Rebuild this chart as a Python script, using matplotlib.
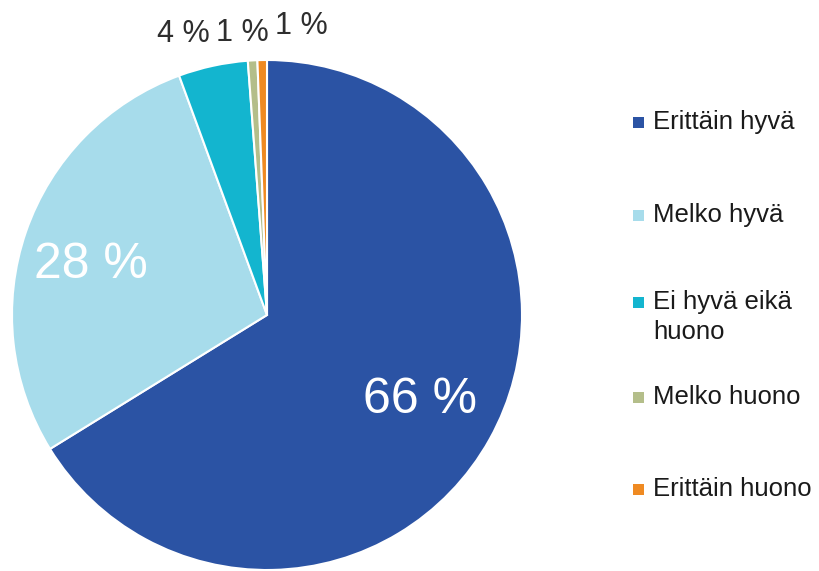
import matplotlib
matplotlib.use("Agg")
import matplotlib.pyplot as plt
from matplotlib.patches import Rectangle

plt.rcParams['font.family'] = ['Liberation Sans', 'DejaVu Sans']

# Survey answer shares (%)
categories = ["Erittäin hyvä", "Melko hyvä", "Ei hyvä eikä\nhuono", "Melko huono", "Erittäin huono"]
shares = [66.2, 28.2, 4.4, 0.6, 0.6]
colors = ["#2B53A4", "#A7DCEB", "#13B5CF", "#B4BE8A", "#EF8A22"]

W, H = 819, 571
fig = plt.figure(figsize=(W / 100, H / 100), dpi=100)

# Pie axes: centre (267, 315) px, radius 255 px
cx, cy, R = 267, 315, 255
ax = fig.add_axes([(cx - R) / W, (H - cy - R) / H, 2 * R / W, 2 * R / H])

wedges, _ = ax.pie(
    shares, colors=colors, startangle=90, counterclock=False,
    radius=1.0, wedgeprops=dict(edgecolor="white", linewidth=1.5),
)
ax.set_xlim(-1, 1)
ax.set_ylim(-1, 1)
ax.set_aspect("equal")
ax.axis("off")

labels = [f"{round(v)} %" for v in shares]

# Label positions in pie units (radius = 1)
inner_pos = {0: (0.600, -0.333), 1: (-0.690, 0.196)}
outer_pos = {2: (-0.329, 1.102), 3: (-0.098, 1.106), 4: (0.133, 1.133)}

for i, (x, y) in inner_pos.items():
    ax.text(x, y, labels[i], color="white", fontsize=36,
            ha="center", va="center")

for i, (x, y) in outer_pos.items():
    ax.text(x, y, labels[i], color="#2e2e2e", fontsize=22,
            ha="center", va="center", clip_on=False)

# Legend
legend_rows = [129, 222, 309, 404, 496]
sq = 11
for name, col, base in zip(categories, colors, legend_rows):
    fig.patches.append(Rectangle((633 / W, (H - base + 1) / H), sq / W, sq / H,
                                 transform=fig.transFigure, facecolor=col,
                                 edgecolor="none"))
    for k, line in enumerate(name.split("\n")):
        fig.text(653 / W, (H - base - k * 30) / H, line, fontsize=18.5,
                 color="#1a1a1a", ha="left", va="baseline")

fig.savefig("out.png", dpi=100, facecolor="white")
